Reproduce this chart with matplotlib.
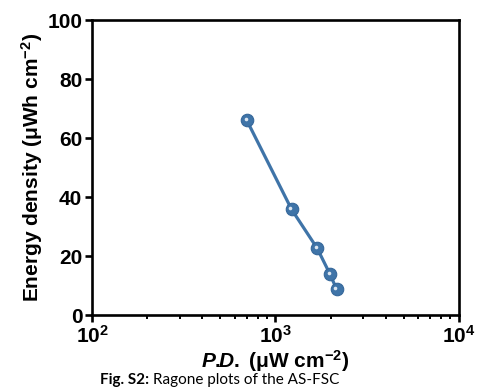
import matplotlib
matplotlib.use('Agg')
import matplotlib.pyplot as plt
import matplotlib.transforms as mtransforms
from matplotlib.ticker import FixedLocator, LogLocator, NullFormatter

# data
power_density = [697, 1225, 1690, 1982, 2154]      # uW cm^-2
energy_density = [66.1, 35.8, 22.6, 13.9, 8.8]     # uWh cm^-2

x_ticks = [1e2, 1e3, 1e4]
x_tick_labels = [r'$\mathbf{10^{2}}$', r'$\mathbf{10^{3}}$', r'$\mathbf{10^{4}}$']
y_ticks = [0, 20, 40, 60, 80, 100]

plt.rcParams['font.family'] = ['Liberation Sans', 'DejaVu Sans']
plt.rcParams['mathtext.fontset'] = 'custom'
plt.rcParams['mathtext.rm'] = 'Liberation Sans:bold'
plt.rcParams['mathtext.bf'] = 'Liberation Sans:bold'
plt.rcParams['mathtext.it'] = 'Liberation Sans:bold:italic'

line_color = '#3f74a8'

fig = plt.figure(figsize=(4.82, 3.88), dpi=100)
ax = fig.add_axes([0.191, 0.188, 0.761, 0.760])

ax.plot(power_density, energy_density, '-', color=line_color, lw=2.3, zorder=2)
ax.plot(power_density, energy_density, 'o', color=line_color, ms=9,
        mec='#35679a', mew=0.8, zorder=3)
# small highlight to give the markers a shiny look
hl = mtransforms.offset_copy(ax.transData, fig=fig, x=-1.2, y=1.2, units='dots')
ax.plot(power_density, energy_density, 'o', color='#dce6f1', ms=2.6,
        mew=0, transform=hl, zorder=4)

ax.set_xscale('log')
ax.set_xlim(1e2, 1e4)
ax.set_ylim(0, 100)

ax.xaxis.set_major_locator(FixedLocator(x_ticks))
ax.set_xticklabels(x_tick_labels)
ax.xaxis.set_minor_locator(LogLocator(base=10, subs=range(2, 10)))
ax.xaxis.set_minor_formatter(NullFormatter())
ax.set_yticks(y_ticks)

for sp in ax.spines.values():
    sp.set_linewidth(1.9)

ax.tick_params(axis='both', which='major', direction='out', length=5, width=1.9,
               labelsize=15, pad=2)
ax.tick_params(axis='x', which='minor', direction='out', length=3, width=1.4)
for lbl in ax.get_yticklabels():
    lbl.set_fontweight('bold')

ax.set_xlabel(r'$\mathit{P.\!\!D.}$ (μW cm$^{-2}$)', fontsize=15,
              fontweight='bold', labelpad=1)
ax.set_ylabel(r'Energy density (μWh cm$^{-2}$)', fontsize=15,
              fontweight='bold', labelpad=2)

# caption under the chart
fig.text(0.207, 0.002, 'Fig. S2:', fontsize=11, fontweight='bold',
         family=['Lato', 'DejaVu Sans'], va='bottom', ha='left')
fig.text(0.318, 0.002, 'Ragone plots of the AS-FSC', fontsize=11,
         family=['Lato', 'DejaVu Sans'], va='bottom', ha='left')

fig.savefig('out.png', dpi=100)
